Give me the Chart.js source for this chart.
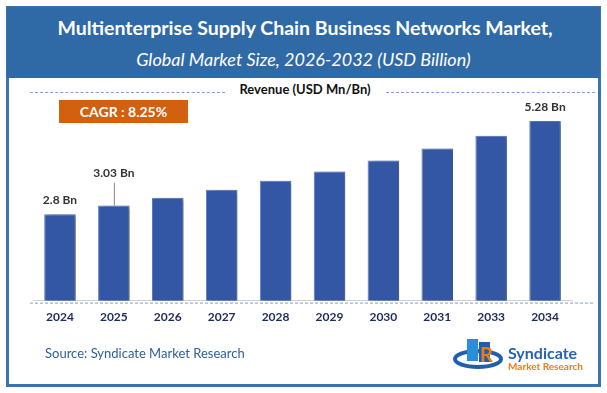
<!DOCTYPE html>
<html>
<head>
<meta charset="utf-8">
<script src="https://cdn.jsdelivr.net/npm/chart.js@4"></script>
<style>
  html, body { margin: 0; padding: 0; background: #fff; }
  #wrap { position: relative; width: 607px; height: 393px; overflow: hidden; font-family: Lato, "Open Sans", sans-serif; }
  #frame { position: absolute; left: 6px; top: 6px; width: 589px; height: 375px; border: 3px solid #3a73b3; }
  #head { position: absolute; left: 7px; top: 7px; width: 593px; height: 71px; background: #2f6aa7; }
  #title { position: absolute; left: 0; top: 16px; width: 610px; text-align: center; color: #fff; font-weight: bold; font-size: 19.5px; }
  #subtitle { position: absolute; left: 0; top: 48px; width: 607px; text-align: center; color: #fff; font-style: italic; font-size: 18px; }
  #rev { position: absolute; left: 0; top: 81px; width: 610px; text-align: center; color: #111; font-weight: bold; font-size: 13px; }
  .dash { position: absolute; top: 92px; height: 0; border-top: 1px dashed #7d9fd6; }
  #cagr { position: absolute; left: 59px; top: 100px; width: 129px; height: 23px; background: #d2600f; color: #fff; font-weight: bold; font-size: 14px; line-height: 23px; text-align: center; }
  #source { position: absolute; left: 45px; top: 345px; color: #2f5f9a; font-size: 13px; }
  #logo1 { position: absolute; left: 508px; top: 343px; color: #2563b0; font-weight: bold; font-size: 16px; }
  #logo2 { position: absolute; left: 508px; top: 360px; color: #ee7d1a; font-weight: bold; font-size: 10px; }
  canvas { position: absolute; left: 0; top: 0; }
</style>
</head>
<body>
<div id="wrap">
  <div id="frame"></div>
  <div id="head"></div>
  <div id="title">Multienterprise Supply Chain Business Networks Market,</div>
  <div id="subtitle">Global Market Size, 2026-2032 (USD Billion)</div>
  <div class="dash" style="left:30px;width:195px"></div>
  <div class="dash" style="left:386px;width:209px"></div>
  <div id="rev">Revenue (USD Mn/Bn)</div>
  <div id="cagr">CAGR : 8.25%</div>
  <canvas id="chart" width="607" height="393"></canvas>
  <div id="source">Source: Syndicate Market Research</div>
  <svg style="position:absolute;left:453px;top:336px" width="54" height="34" viewBox="0 0 54 34">
    <ellipse cx="25" cy="23" rx="23" ry="8" fill="none" stroke="#1f5fb0" stroke-width="4"/>
    <rect x="14" y="3" width="11" height="22" fill="#2b8fd8"/>
    <rect x="26" y="6" width="11" height="20" fill="#1d5fae"/>
    <text x="27" y="26" font-family="Lato" font-weight="bold" font-size="20" fill="#f07a1a">R</text>
  </svg>
  <div id="logo1">Syndicate</div>
  <div id="logo2">Market Research</div>
</div>
<script>
const years = ["2024", "2025", "2026", "2027", "2028", "2029", "2030", "2031", "2033", "2034"];
const revenue = [2.8, 3.03, 3.24, 3.45, 3.69, 3.94, 4.23, 4.55, 4.89, 5.28];
const barLabels = ["2.8 Bn", "3.03 Bn", "", "", "", "", "", "", "", "5.28 Bn"];

// shadow behind the bars + labels over a few of them
const barExtras = {
  id: "barExtras",
  beforeDatasetsDraw(chart) {
    const ctx = chart.ctx;
    ctx.save();
    ctx.shadowColor = "rgba(0,0,0,0.35)";
    ctx.shadowOffsetX = 4;
    ctx.shadowOffsetY = 1;
    ctx.shadowBlur = 4;
  },
  afterDatasetsDraw(chart) {
    const ctx = chart.ctx;
    ctx.restore();
    const meta = chart.getDatasetMeta(0);
    ctx.save();
    ctx.font = "bold 12px Lato";
    ctx.fillStyle = "#333";
    ctx.textAlign = "center";
    ctx.textBaseline = "middle";
    meta.data.forEach((bar, i) => {
      if (!barLabels[i]) return;
      if (i === 1) {
        ctx.strokeStyle = "#888";
        ctx.lineWidth = 1;
        ctx.beginPath();
        ctx.moveTo(bar.x + 0.5, bar.y);
        ctx.lineTo(bar.x + 0.5, bar.y - 23);
        ctx.stroke();
        ctx.fillText(barLabels[i], bar.x, bar.y - 32);
      } else {
        ctx.fillText(barLabels[i], bar.x, bar.y - 14);
      }
    });
    // dashed baseline under the axis
    const a = chart.chartArea;
    ctx.strokeStyle = "#7d9fd6";
    ctx.setLineDash([3, 2]);
    ctx.beginPath();
    ctx.moveTo(30, a.bottom + 2.5);
    ctx.lineTo(595, a.bottom + 2.5);
    ctx.stroke();
    ctx.restore();
  }
};

new Chart(document.getElementById("chart"), {
  type: "bar",
  data: {
    labels: years,
    datasets: [{
      data: revenue,
      backgroundColor: "#3357a5",
      borderColor: "#5b7cc4",
      borderWidth: 1,
      barPercentage: 0.585,
      categoryPercentage: 1
    }]
  },
  options: {
    responsive: false,
    animation: false,
    layout: { padding: { left: 33, right: 35, top: 94, bottom: 68 } },
    plugins: { legend: { display: false }, tooltip: { enabled: false } },
    scales: {
      x: {
        grid: { display: false },
        border: { color: "#d0d0d0" },
        ticks: { color: "#1e2a5a", font: { family: "Lato", weight: "bold", size: 12 }, padding: 1 }
      },
      y: { display: false, min: 0.5, max: 6 }
    }
  },
  plugins: [barExtras]
});
</script>
</body>
</html>
